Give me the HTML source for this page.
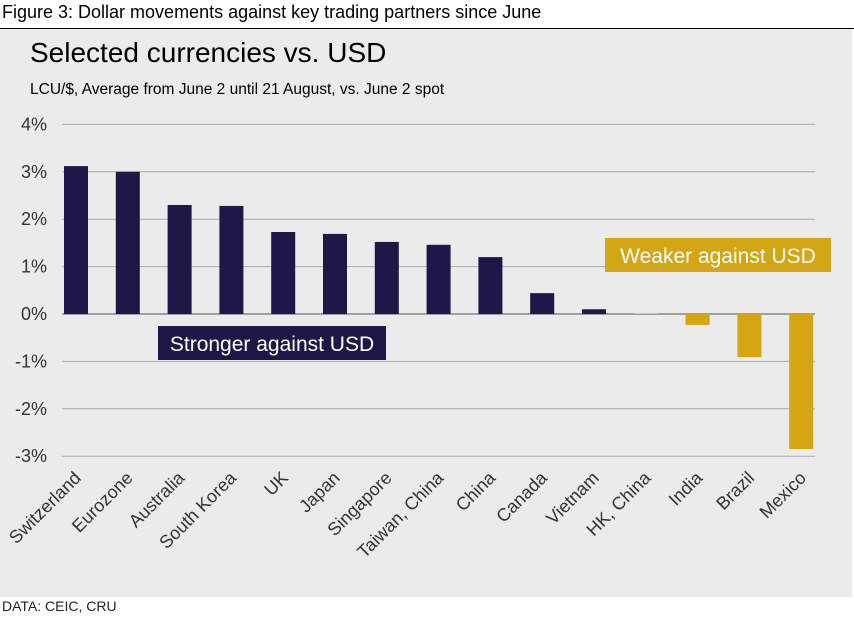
<!DOCTYPE html>
<html><head><meta charset="utf-8"><style>
body{margin:0;width:854px;height:619px;background:#fff;font-family:"Liberation Sans",Arial,sans-serif;overflow:hidden;position:relative}
#fig{position:absolute;left:2px;top:2px;font-size:18px;color:#000}
#rule{position:absolute;left:0;top:28px;width:854px;height:1px;background:#000}
#panel{position:absolute;left:0;top:29px;width:852px;height:568px;background:#ebebeb}
#src{position:absolute;left:2px;top:598px;font-size:14px;color:#222}
</style></head><body>
<div id="fig">Figure 3: Dollar movements against key trading partners since June</div>
<div id="rule"></div>
<div id="panel"></div>
<svg id="chart" width="854" height="619" style="position:absolute;left:0;top:0">
<text x="30" y="62" font-size="28" fill="#000">Selected currencies vs. USD</text>
<text x="30" y="94" font-size="15.5" fill="#000">LCU/$, Average from June 2 until 21 August, vs. June 2 spot</text>
<g id="grid"></g><g id="bars"></g><g id="labels"></g>
<rect x="158" y="326" width="228" height="34" fill="#1e1747"/>
<text x="272" y="351" font-size="21" fill="#fff" text-anchor="middle">Stronger against USD</text>
<rect x="605" y="238" width="226" height="34" fill="#d4a514"/>
<text x="718" y="263" font-size="21" fill="#fff" text-anchor="middle">Weaker against USD</text>
</svg>
<div id="src">DATA: CEIC, CRU</div>
<script>
const categories=["Switzerland","Eurozone","Australia","South Korea","UK","Japan","Singapore","Taiwan, China","China","Canada","Vietnam","HK, China","India","Brazil","Mexico"];
const values=[3.12,3.0,2.3,2.28,1.73,1.69,1.52,1.46,1.2,0.44,0.1,0.01,-0.23,-0.91,-2.85];
const yTicks=[4,3,2,1,0,-1,-2,-3];
const NS="http://www.w3.org/2000/svg";
const y0=314,pp=47.4;
const y=v=>y0-v*pp;
const x0=76,step=51.8,bw=24;
const x=i=>x0+i*step;
const grid=document.getElementById('grid'),bars=document.getElementById('bars'),labels=document.getElementById('labels');
yTicks.forEach(t=>{
 const l=document.createElementNS(NS,'line');
 
 
 l.setAttribute('x1',62);l.setAttribute('x2',815);l.setAttribute('y1',y(t));l.setAttribute('y2',y(t));
 l.setAttribute('stroke',t===0?'#555':'#aaa');l.setAttribute('stroke-width',1);
 grid.appendChild(l);
 const tx=document.createElementNS(NS,'text');
 
 
 tx.setAttribute('x',47);tx.setAttribute('y',y(t)+6);tx.setAttribute('text-anchor','end');tx.setAttribute('font-size','18');tx.setAttribute('fill','#333');
 tx.textContent=t+'%';grid.appendChild(tx);
});
categories.forEach((c,i)=>{
 const v=values[i];
 const r=document.createElementNS(NS,'rect');
 
 
 r.setAttribute('x',x(i)-bw/2);r.setAttribute('width',bw);
 r.setAttribute('y',Math.min(y(v),y0));r.setAttribute('height',Math.abs(y(v)-y0));
 r.setAttribute('fill',v>=0.05||i<11?'#1e1747':'#d4a514');
 bars.appendChild(r);
 const t=document.createElementNS(NS,'text');
 
 
 const lx=x(i)+6,ly=479;
 t.setAttribute('x',lx);t.setAttribute('y',ly);t.setAttribute('text-anchor','end');t.setAttribute('font-size','18');t.setAttribute('fill','#333');
 t.setAttribute('transform','rotate(-45 '+lx+' '+ly+')');
 t.textContent=c;labels.appendChild(t);
});
</script>
</body></html>
